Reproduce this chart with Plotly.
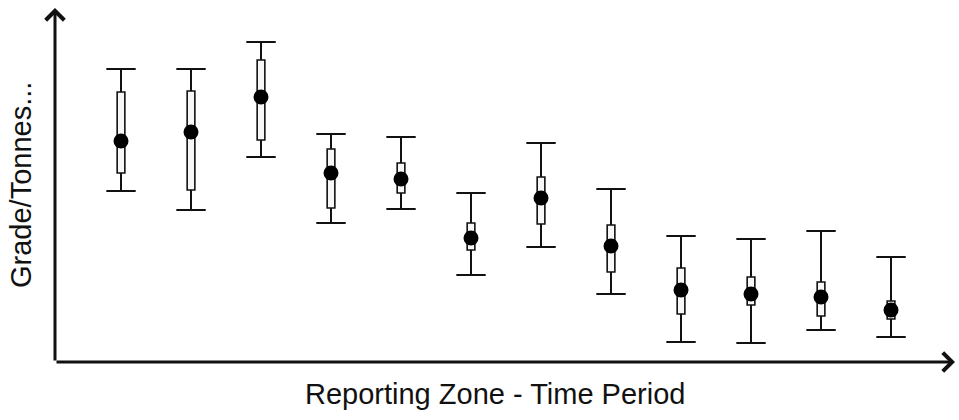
import plotly.graph_objects as go

# Reporting zone / time period index
zones = list(range(1, 13))

# Grade/tonnes estimates per zone (arbitrary units)
estimate = [221, 230, 265, 189, 183, 124, 164, 116, 72, 68, 65, 52]
box_upper = [270, 271, 302, 213, 199, 139, 185, 137, 94, 85, 80, 61]
box_lower = [189, 172, 222, 154, 169, 112, 138, 90, 48, 57, 46, 43]
whisker_upper = [293, 293, 320, 228, 225, 169, 219, 173, 126, 123, 131, 105]
whisker_lower = [171, 152, 205, 139, 153, 87, 115, 68, 20, 19, 32, 25]

INK = "#111111"

fig = go.Figure()

# inner interval boxes
fig.add_trace(go.Bar(
    x=zones,
    base=box_lower,
    y=[u - l for u, l in zip(box_upper, box_lower)],
    width=0.11,
    marker=dict(color="#f7f7f7", line=dict(color=INK, width=1.6)),
    hoverinfo="skip",
))

# whisker stems above and below each box
wx, wy = [], []
for z, bl, bu, cl, cu in zip(zones, box_lower, box_upper, whisker_lower, whisker_upper):
    wx += [z, z, None, z, z, None]
    wy += [cl, bl, None, bu, cu, None]
fig.add_trace(go.Scatter(
    x=wx, y=wy, mode="lines",
    line=dict(color=INK, width=2),
    hoverinfo="skip",
))

# whisker caps
fig.add_trace(go.Scatter(
    x=zones + zones,
    y=whisker_upper + whisker_lower,
    mode="markers",
    marker=dict(symbol="line-ew-open", size=21, color=INK,
                line=dict(color=INK, width=2)),
    hoverinfo="skip",
))

# central estimates
fig.add_trace(go.Scatter(
    x=zones, y=estimate, mode="markers",
    marker=dict(symbol="circle", size=15, color="#000000"),
))

L, R, T, B = 55, 4, 8, 58
fig.update_layout(
    width=959, height=420,
    margin=dict(l=L, r=R, t=T, b=B),
    paper_bgcolor="white", plot_bgcolor="white",
    showlegend=False,
    font=dict(family="Arial, Liberation Sans, sans-serif", color=INK),
    xaxis=dict(range=[0.057, 12.914], showgrid=False, zeroline=False,
               showticklabels=False, ticks="", showline=False, fixedrange=True),
    yaxis=dict(range=[0, 354], showgrid=False, zeroline=False,
               showticklabels=False, ticks="", showline=False, fixedrange=True),
    annotations=[
        # horizontal axis arrow
        dict(xref="paper", yref="paper", x=1.0, y=0.0, ax=-900, ay=0,
             showarrow=True, arrowhead=4, arrowsize=1.2, arrowwidth=3,
             arrowcolor=INK, text=""),
        # vertical axis arrow
        dict(xref="paper", yref="paper", x=0.0, y=1.0, ax=0, ay=354,
             showarrow=True, arrowhead=4, arrowsize=1.2, arrowwidth=3,
             arrowcolor=INK, text=""),
        dict(xref="paper", yref="paper", x=(495 - L) / 900, y=-(394 - 362) / 354,
             xanchor="center", yanchor="middle", showarrow=False,
             text="Reporting Zone - Time Period", font=dict(size=29)),
        dict(xref="paper", yref="paper", x=(21 - L) / 900, y=(362 - 185) / 354,
             xanchor="center", yanchor="middle", showarrow=False, textangle=-90,
             text="Grade/Tonnes...", font=dict(size=29)),
    ],
)

fig.write_html("out.html")
